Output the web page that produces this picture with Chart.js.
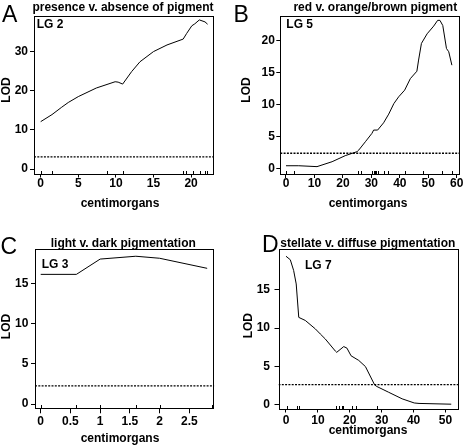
<!DOCTYPE html>
<html><head><meta charset="utf-8">
<script src="https://cdn.jsdelivr.net/npm/chart.js@4/dist/chart.umd.min.js"></script>
<style>
html,body{margin:0;padding:0;background:#fff;}
#wrap{position:relative;width:464px;height:448px;background:#fff;}
.p{position:absolute;width:232px;height:224px;}
canvas{display:block;}
</style></head><body>
<div id="wrap">
<div class="p" style="left:0;top:0"><canvas id="cA" width="232" height="224"></canvas></div>
<div class="p" style="left:232px;top:0"><canvas id="cB" width="232" height="224"></canvas></div>
<div class="p" style="left:0;top:224px"><canvas id="cC" width="232" height="224"></canvas></div>
<div class="p" style="left:232px;top:224px"><canvas id="cD" width="232" height="224"></canvas></div>
</div>
<script>
// ---- Data ----
// A: LG 2, presence v. absence of pigment
const aX = [0, 1.5, 2.8, 3.67, 5.0, 7.4, 9.9, 10.3, 10.9, 12.1, 13.2, 15.0, 16.8, 18.95, 19.4, 20.1, 20.5, 21.1, 21.85, 22.2];
const aY = [12.1, 13.9, 15.8, 17.0, 18.5, 20.7, 22.3, 22.2, 21.7, 24.9, 27.4, 30.0, 31.7, 33.2, 34.6, 36.6, 37.1, 38.1, 37.6, 37.0];
const aRug = [0, 1.54, 8.86, 10.9, 18.96, 19.3, 20.3, 21.2, 21.8, 22.1];
const aThreshold = 3.1;
const xTicksA = [0, 5, 10, 15, 20];
const yTicksA = [0, 10, 20, 30];

// B: LG 5, red v. orange/brown pigment
const bX = [0, 4.5, 10.9, 16.2, 20.8, 25.0, 25.6, 27.9, 30.2, 30.8, 32.2, 34.3, 36.1, 37.9, 39.6, 41.7, 43.7, 46.0, 46.6, 47.6, 49.6, 51.9, 53.3, 54.1, 55.1, 56.4, 57.2, 58.3];
const bY = [0.4, 0.4, 0.26, 1.03, 1.97, 2.6, 2.86, 4.15, 5.45, 5.97, 5.97, 7.1, 8.46, 10.1, 11.16, 12.2, 14.0, 15.16, 16.9, 19.5, 21.0, 22.2, 23.1, 23.1, 22.3, 18.7, 18.2, 16.1];
const bRug = [0, 2.7, 25.2, 26.4, 30.3, 30.8, 31.3, 31.8, 32.3, 34.3, 35.8, 41.8, 48, 55, 58.5];
const bThreshold = 2.35;
const xTicksB = [0, 10, 20, 30, 40, 50, 60];
const yTicksB = [0, 5, 10, 15, 20];

// C: LG 3, light v. dark pigmentation
const cX = [0, 0.6, 1.0, 1.6, 2.0, 2.8];
const cY = [16.1, 16.1, 18.0, 18.35, 18.1, 16.85];
const cRug = [0, 0.6, 1.0, 1.6, 2.0, 2.88];
const cThreshold = 2.25;
const xTicksC = [0, 0.5, 1, 1.5, 2, 2.5];
const yTicksC = [0, 5, 10, 15];

// D: LG 7, stellate v. diffuse pigmentation
const dX = [0, 1.35, 2.4, 3.2, 4.0, 6.05, 9.2, 10.75, 12.3, 15.5, 15.9, 18.1, 19.1, 20.4, 22.8, 24.9, 27.8, 28.5, 32.2, 36.4, 40.2, 41.7, 51.8];
const dY = [19.36, 18.9, 17.5, 15.75, 11.4, 11.0, 9.9, 9.24, 8.6, 7.0, 6.85, 7.6, 7.4, 6.4, 5.8, 5.0, 2.6, 2.4, 1.65, 0.8, 0.26, 0.2, 0.1];
const dRug = [0.2, 3.5, 4.2, 15.7, 16.6, 17.5, 18.0, 20.6, 21.8, 28.4];
const dThreshold = 2.65;
const xTicksD = [0, 10, 20, 30, 40, 50];
const yTicksD = [0, 5, 10, 15];

const FONT = "'Liberation Sans', Arial, Helvetica, sans-serif";

const panels = [
  {id:'cA', letter:'A', lX:2, lY:21.7, title:'presence v. absence of pigment', tX:123, tY:11,
   lg:'LG 2', gX:36.7, gY:28, yLX:7, yLY:90, xLX:120, xLY:207,
   box:{L:34, R:214, T:16, B:173.5}, xMin:-0.89, xMax:23.05, yMin:-1.15, yMax:39.1,
   xs:aX, ys:aY, rug:aRug, thr:aThreshold, xt:xTicksA, yt:yTicksA, xTL:4, xPad:0, yPad:2},
  {id:'cB', letter:'B', lX:1.5, lY:21.7, title:'red v. orange/brown pigment', tX:143.3, tY:11,
   lg:'LG 5', gX:54.3, gY:27.5, yLX:15, yLY:90, xLX:136, xLY:207,
   box:{L:48.3, R:227.7, T:16, B:174}, xMin:-2.0, xMax:61.05, yMin:-0.89, yMax:23.78,
   xs:bX, ys:bY, rug:bRug, thr:bThreshold, xt:xTicksB, yt:yTicksB, xTL:4, xPad:0, yPad:1.5},
  {id:'cC', letter:'C', lX:0.5, lY:30, title:'light v. dark pigmentation', tX:123.3, tY:22.7,
   lg:'LG 3', gX:41.7, gY:44, yLX:7, yLY:102.5, xLX:120, xLY:218,
   box:{L:35, R:214.3, T:25, B:184.3}, xMin:-0.096, xMax:2.92, yMin:-0.53, yMax:19.25,
   xs:cX, ys:cY, rug:cRug, thr:cThreshold, xt:xTicksC, yt:yTicksC, xTL:5, xPad:2.7, yPad:2.7},
  {id:'cD', letter:'D', lX:30, lY:28.3, title:'stellate v. diffuse pigmentation', tX:135.8, tY:22.7,
   lg:'LG 7', gX:73, gY:45, yLX:16.7, yLY:101.7, xLX:136, xLY:210,
   box:{L:46.5, R:226.7, T:25, B:184.5}, xMin:-2.35, xMax:54.14, yMin:-0.46, yMax:20.3,
   xs:dX, ys:dY, rug:dRug, thr:dThreshold, xt:xTicksD, yt:yTicksD, xTL:4, xPad:2.5, yPad:4.5}
];

const decor = {
  id: 'decor',
  afterDraw(chart) {
    const p = chart.options.plugins.decor.panel;
    const ctx = chart.ctx;
    const ca = chart.chartArea;
    const xs = chart.scales.x;
    ctx.save();
    ctx.strokeStyle = '#000';
    ctx.lineWidth = 1;
    // frame
    const L = Math.round(ca.left) + 0.5, R = Math.round(ca.right) - 0.5;
    const T = Math.round(ca.top) + 0.5, B = Math.round(ca.bottom) + 0.5;
    ctx.strokeRect(L, T, R - L, B - T);
    // rug of marker positions
    ctx.beginPath();
    p.rug.forEach(v => {
      const px = Math.round(xs.getPixelForValue(v)) + 0.5;
      ctx.moveTo(px, B - 3.5);
      ctx.lineTo(px, B + 0.5);
    });
    ctx.stroke();
    // texts
    ctx.fillStyle = '#000';
    ctx.textBaseline = 'alphabetic';
    ctx.textAlign = 'left';
    ctx.font = `23px ${FONT}`;
    ctx.fillText(p.letter, p.lX, p.lY);
    ctx.font = `bold 12px ${FONT}`;
    ctx.textAlign = 'center';
    ctx.fillText(p.title, p.tX, p.tY);
    ctx.fillText('centimorgans', p.xLX, p.xLY);
    ctx.textAlign = 'left';
    ctx.fillText(p.lg, p.gX, p.gY);
    ctx.save();
    ctx.translate(p.yLX, p.yLY);
    ctx.rotate(-Math.PI / 2);
    ctx.textAlign = 'center';
    ctx.textBaseline = 'middle';
    ctx.fillText('LOD', 0, 0);
    ctx.restore();
    ctx.restore();
  }
};

panels.forEach(p => {
  const curve = p.xs.map((x, i) => ({x: x, y: p.ys[i]}));
  const thrLine = [{x: p.xMin, y: p.thr}, {x: p.xMax, y: p.thr}];
  const tickFont = {family: FONT, size: 12, weight: 'bold', lineHeight: 1};
  new Chart(document.getElementById(p.id), {
    type: 'line',
    data: {
      datasets: [
        {data: curve, borderColor: '#000', borderWidth: 1, pointRadius: 0, tension: 0, fill: false},
        {data: thrLine, borderColor: '#000', borderWidth: 1.3, borderDash: [2, 1.3], pointRadius: 0, tension: 0, fill: false}
      ]
    },
    options: {
      responsive: false,
      animation: false,
      devicePixelRatio: 1,
      layout: {padding: {left: 0, top: p.box.T, right: 232 - p.box.R, bottom: 0}},
      plugins: {legend: {display: false}, tooltip: {enabled: false}, title: {display: false}, decor: {panel: p}},
      scales: {
        x: {
          type: 'linear', min: p.xMin, max: p.xMax,
          afterBuildTicks: s => { s.ticks = p.xt.map(v => ({value: v})); },
          afterFit: s => { s.height = 224 - p.box.B; },
          ticks: {font: tickFont, color: '#000', padding: p.xPad, maxRotation: 0, autoSkip: false,
                  callback: v => String(v)},
          grid: {display: true, drawOnChartArea: false, drawTicks: true, tickLength: p.xTL, color: '#000', lineWidth: 1},
          border: {display: false}
        },
        y: {
          type: 'linear', min: p.yMin, max: p.yMax,
          afterBuildTicks: s => { s.ticks = p.yt.map(v => ({value: v})); },
          afterFit: s => { s.width = p.box.L; },
          ticks: {font: tickFont, color: '#000', padding: p.yPad, autoSkip: false, callback: v => String(v)},
          grid: {display: true, drawOnChartArea: false, drawTicks: true, tickLength: 4, color: '#000', lineWidth: 1},
          border: {display: false}
        }
      }
    },
    plugins: [decor]
  });
});
</script>
</body></html>
